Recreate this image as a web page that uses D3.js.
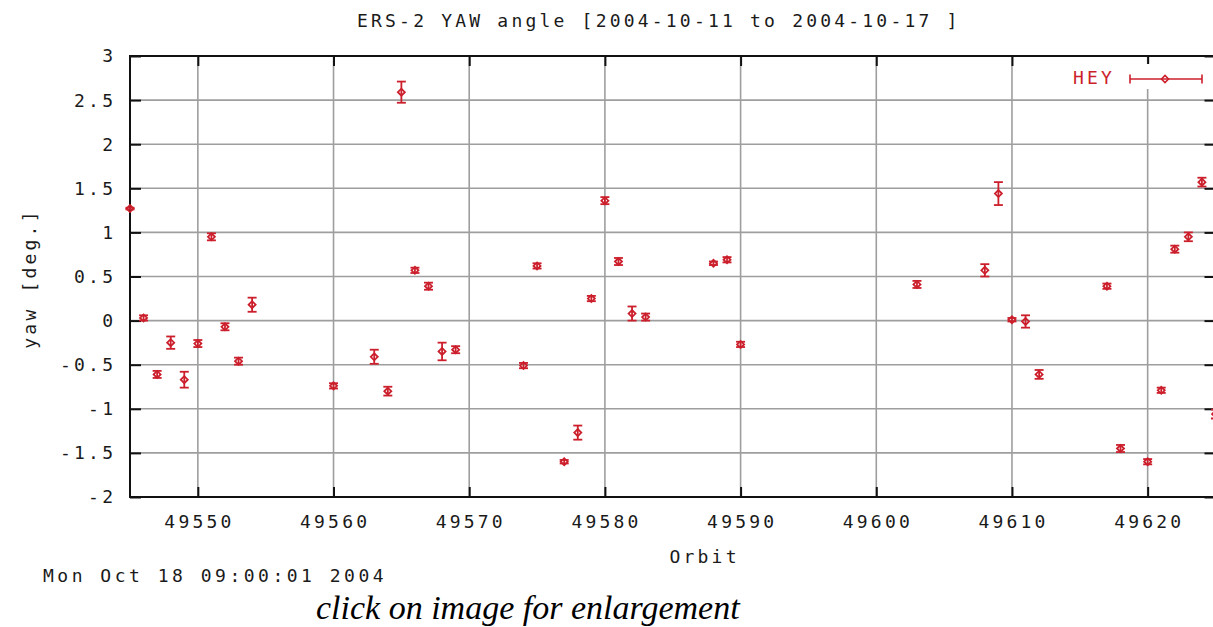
<!DOCTYPE html>
<html><head><meta charset="utf-8">
<script src="https://cdn.jsdelivr.net/npm/d3@7"></script>
<style>
html,body{margin:0;padding:0;background:#fff;}
svg text{font-family:"DejaVu Sans Mono",monospace;font-size:18px;letter-spacing:3.2px;fill:#1a1a1a;}
</style></head>
<body>
<svg id="c" width="1213" height="627"></svg>
<script>
const orbits = [49545,49546,49547,49548,49549,49550,49551,49552,49553,49554,49560,49563,49564,49565,49566,49567,49568,49569,49574,49575,49577,49578,49579,49580,49581,49582,49583,49588,49589,49590,49603,49608,49609,49610,49611,49612,49617,49618,49620,49621,49622,49623,49624,49625];
const yaw    = [1.27,0.03,-0.61,-0.25,-0.67,-0.26,0.95,-0.07,-0.46,0.18,-0.74,-0.41,-0.80,2.59,0.57,0.39,-0.35,-0.33,-0.51,0.62,-1.60,-1.27,0.25,1.36,0.67,0.08,0.04,0.65,0.69,-0.27,0.41,0.57,1.44,0.01,-0.01,-0.61,0.39,-1.45,-1.60,-0.79,0.81,0.95,1.57,-1.06];
const yawErr = [0.01,0.03,0.04,0.07,0.09,0.04,0.04,0.04,0.04,0.08,0.03,0.08,0.05,0.12,0.03,0.04,0.10,0.04,0.03,0.03,0.02,0.08,0.03,0.04,0.04,0.08,0.04,0.02,0.03,0.03,0.04,0.07,0.13,0.02,0.07,0.05,0.03,0.04,0.03,0.03,0.04,0.05,0.05,0.05];
const xTicks = [49550,49560,49570,49580,49590,49600,49610,49620];
const yTicks = [-2,-1.5,-1,-0.5,0,0.5,1,1.5,2,2.5,3];
const titleText = "ERS-2 YAW angle [2004-10-11 to 2004-10-17 ]";
const xLabel = "Orbit";
const yLabel = "yaw [deg.]";
const legendLabel = "HEY";
const stampText = "Mon Oct 18 09:00:01 2004";
const captionText = "click on image for enlargement";

const svg = d3.select("#c");
const L = 130, R = 1215.5, T = 56, B = 497;
const x = d3.scaleLinear().domain([49545, 49625]).range([L, R]);
const y = d3.scaleLinear().domain([-2, 3]).range([B, T]);
const red = "#cc1f2c", grid = "#9e9e9e", ls = 3.2;

svg.append("rect").attr("width",1213).attr("height",627).attr("fill","#fff");

// grid
const g = svg.append("g");
g.selectAll(".vg").data(xTicks).join("line")
  .attr("x1", d=>x(d)).attr("x2", d=>x(d)).attr("y1", T).attr("y2", B)
  .attr("stroke", grid).attr("stroke-width", 1.6);
g.selectAll(".hg").data(yTicks.filter(d=>d>-2&&d<3)).join("line")
  .attr("x1", L).attr("x2", R).attr("y1", d=>y(d)).attr("y2", d=>y(d))
  .attr("stroke", grid).attr("stroke-width", 1.6);

// axes via d3 (ticks inward)
const xAxisB = d3.axisBottom(x).tickValues(xTicks).tickSize(-10).tickFormat("");
const xAxisT = d3.axisTop(x).tickValues(xTicks).tickSize(-10).tickFormat("");
const yAxisL = d3.axisLeft(y).tickValues(yTicks).tickSize(-11).tickFormat("");
const yAxisR = d3.axisRight(y).tickValues(yTicks).tickSize(-11).tickFormat("");
function styleAxis(sel){
  sel.select(".domain").remove();
  sel.selectAll(".tick line").attr("stroke","#111").attr("stroke-width",2);
}
svg.append("g").attr("transform",`translate(0,${B})`).call(xAxisB).call(styleAxis);
svg.append("g").attr("transform",`translate(0,${T})`).call(xAxisT).call(styleAxis);
svg.append("g").attr("transform",`translate(${L},0)`).call(yAxisL).call(styleAxis);
svg.append("g").attr("transform",`translate(${R},0)`).call(yAxisR).call(styleAxis);

// border
svg.append("rect").attr("x",L).attr("y",T).attr("width",R-L).attr("height",B-T)
  .attr("fill","none").attr("stroke","#111").attr("stroke-width",2);

// tick labels
svg.selectAll(".xl").data(xTicks).join("text")
  .attr("x", d=>x(d)+ls/2).attr("y", 528).attr("text-anchor","middle").text(d=>d);
svg.selectAll(".yl").data(yTicks).join("text")
  .attr("x", 113+ls).attr("y", d=>y(d)).attr("dy","0.36em").attr("text-anchor","end")
  .text(d=>d3.format("")(d).replace("−","-"));

// labels
svg.append("text").attr("x", 357).attr("y", 27).text(titleText);
svg.append("text").attr("x", 703+ls/2).attr("y", 563).attr("text-anchor","middle").text(xLabel);
svg.append("text").attr("transform",`translate(36,${(T+B)/2+2}) rotate(-90)`).attr("text-anchor","middle").text(yLabel);
svg.append("text").attr("x", 43).attr("y", 582).style("letter-spacing","3.5px").text(stampText);
svg.append("text").attr("x", 316).attr("y", 619)
  .style("font-family","'Liberation Serif',serif").style("font-style","italic")
  .style("font-size","34px").style("letter-spacing","0px").style("fill","#000").text(captionText);

// data
const pts = svg.append("g").attr("stroke", red).attr("stroke-width",1.8).attr("fill","none");
const data = orbits.map((o,i)=>({o, v:yaw[i], e:yawErr[i]}));
const cap = 4.5, ps = 3.5;
data.forEach(d=>{
  const cx = x(d.o), y1 = y(d.v + d.e), y2 = y(d.v - d.e), cy = y(d.v);
  pts.append("line").attr("x1",cx).attr("x2",cx).attr("y1",Math.min(y1,cy-1.5)).attr("y2",Math.max(y2,cy+1.5));
  pts.append("line").attr("x1",cx-cap).attr("x2",cx+cap).attr("y1",y1).attr("y2",y1);
  pts.append("line").attr("x1",cx-cap).attr("x2",cx+cap).attr("y1",y2).attr("y2",y2);
  pts.append("path").attr("d",`M${cx-ps},${cy}L${cx},${cy-ps}L${cx+ps},${cy}L${cx},${cy+ps}Z`);
});

// legend
const lg = svg.append("g");
lg.append("rect").attr("x",1066).attr("y",64).attr("width",150).attr("height",25).attr("fill","#fff");
lg.append("text").attr("x",1073).attr("y",84).style("fill",red).text(legendLabel);
const ly = 79, lx1 = 1130, lx2 = 1202, lxc = 1165;
const lgl = lg.append("g").attr("stroke",red).attr("stroke-width",1.6).attr("fill","none");
lgl.append("line").attr("x1",lx1).attr("x2",lx2).attr("y1",ly).attr("y2",ly);
lgl.append("line").attr("x1",lx1).attr("x2",lx1).attr("y1",ly-4.5).attr("y2",ly+4.5);
lgl.append("line").attr("x1",lx2).attr("x2",lx2).attr("y1",ly-4.5).attr("y2",ly+4.5);
lgl.append("path").attr("d",`M${lxc-ps},${ly}L${lxc},${ly-ps}L${lxc+ps},${ly}L${lxc},${ly+ps}Z`);
</script>
</body></html>
